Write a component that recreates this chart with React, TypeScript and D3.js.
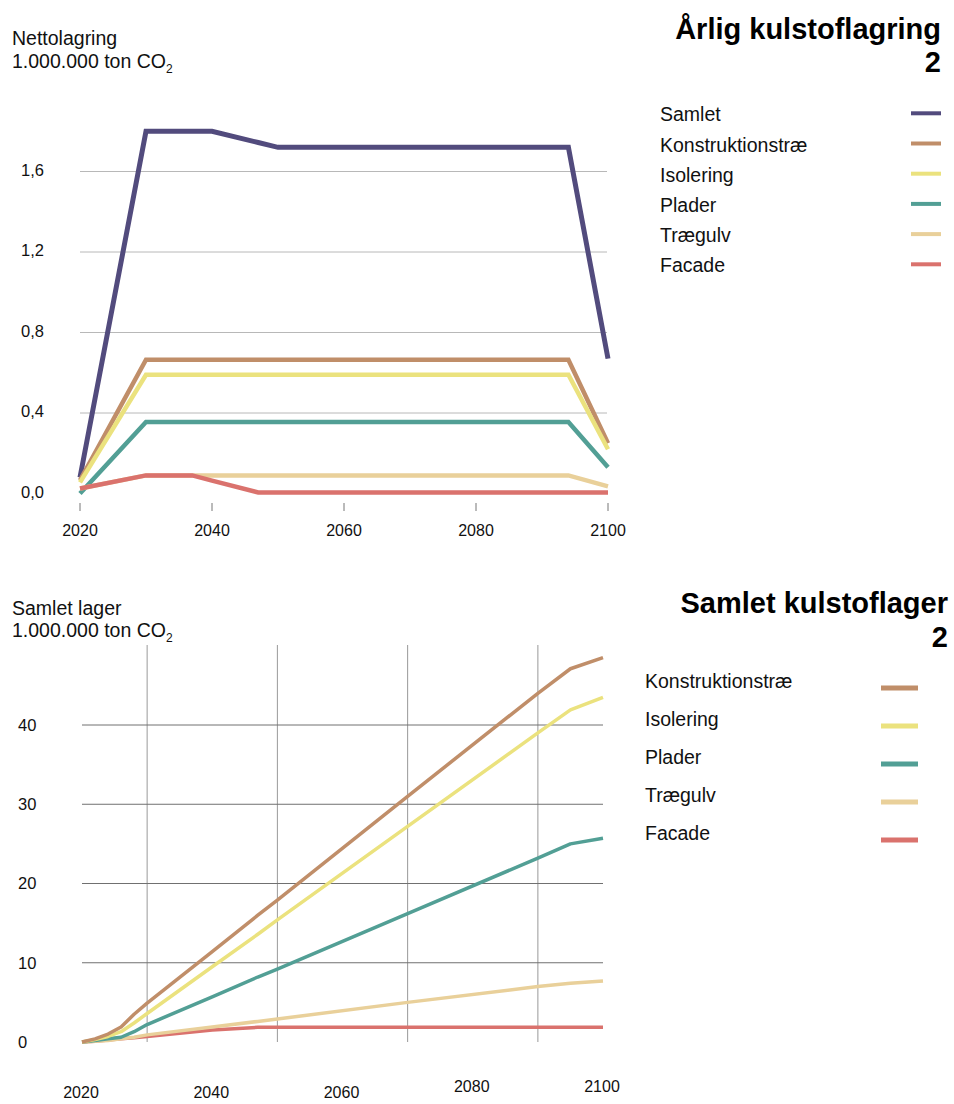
import React from "react";
import * as d3 from "d3";

// ---------- Top chart: annual net storage ----------
const topTitle = "Årlig kulstoflagring";
const topYears = [2020, 2030, 2037, 2040, 2047, 2050, 2094, 2100];
const topSamlet = [0.08, 1.8, 1.8, 1.8, 1.744, 1.72, 1.72, 0.67];
const topKonstruktion = [0.065, 0.665, 0.665, 0.665, 0.665, 0.665, 0.665, 0.25];
const topIsolering = [0.055, 0.59, 0.59, 0.59, 0.59, 0.59, 0.59, 0.22];
const topPlader = [0.0, 0.355, 0.355, 0.355, 0.355, 0.355, 0.355, 0.13];
const topTraegulv = [0.025, 0.09, 0.09, 0.09, 0.09, 0.09, 0.09, 0.035];
const topFacade = [0.025, 0.09, 0.09, 0.064, 0.005, 0.005, 0.005, 0.005];
const topYTicks = [0, 0.4, 0.8, 1.2, 1.6];
const topXTicks = [2020, 2040, 2060, 2080, 2100];

// ---------- Bottom chart: cumulative stock ----------
const botTitle = "Samlet kulstoflager";
const botYears = [2020, 2022, 2024, 2026, 2028, 2030, 2040, 2047, 2050, 2070, 2090, 2095, 2100];
const botKonstruktion = [0, 0.4, 1.0, 1.9, 3.5, 4.9, 11.4, 16.0, 17.9, 31.0, 44.0, 47.1, 48.5];
const botIsolering = [0, 0.3, 0.7, 1.3, 2.4, 3.6, 9.5, 13.6, 15.4, 27.2, 39.0, 41.9, 43.5];
const botPlader = [0, 0.2, 0.4, 0.6, 1.3, 2.2, 5.7, 8.2, 9.2, 16.2, 23.2, 25.0, 25.7];
const botTraegulv = [0, 0.1, 0.2, 0.4, 0.6, 0.9, 1.9, 2.6, 2.9, 5.0, 7.0, 7.4, 7.7];
const botFacade = [0, 0.1, 0.25, 0.4, 0.55, 0.7, 1.5, 1.85, 1.85, 1.85, 1.85, 1.85, 1.85];
const botYTicks = [0, 10, 20, 30, 40];
const botXGrid = [2030, 2050, 2070, 2090];
const botXTicks = [2020, 2040, 2060, 2080, 2100];

const names = ["Samlet", "Konstruktionstræ", "Isolering", "Plader", "Trægulv", "Facade"];
const colors = ["#524b7d", "#c08e69", "#ebe27e", "#529f95", "#e9d09a", "#da726d"];

const FONT = "'Liberation Sans', Arial, Helvetica, sans-serif";

function fmtComma(v: number) {
  return d3.format(".1f")(v).replace(".", ",");
}

export default function App() {
  const xTop = d3.scaleLinear().domain([2020, 2100]).range([80, 608]);
  const yTop = d3.scaleLinear().domain([0, 2]).range([493.5, 91]);
  const xBot = d3.scaleLinear().domain([2020, 2100]).range([82, 603]);
  const yBot = d3.scaleLinear().domain([0, 50]).range([1042, 645.75]);

  const topSeries = [topSamlet, topKonstruktion, topIsolering, topPlader, topTraegulv, topFacade];
  const botSeries = [botKonstruktion, botIsolering, botPlader, botTraegulv, botFacade];

  const lineTop = d3
    .line<number>()
    .x((_, i) => xTop(topYears[i]))
    .y((d) => yTop(d));
  const lineBot = d3
    .line<number>()
    .x((_, i) => xBot(botYears[i]))
    .y((d) => yBot(d));

  return (
    <svg
      width={954}
      height={1104}
      style={{ position: "absolute", left: 0, top: 0, display: "block", background: "#fff" }}
      fontFamily={FONT}
    >
      {/* ================= TOP CHART ================= */}
      <text x={12} y={45} fontSize={19.5} fill="#111">Nettolagring</text>
      <text x={12} y={68} fontSize={19.5} fill="#111">
        1.000.000 ton CO
        <tspan fontSize={12} dy={5}>2</tspan>
      </text>
      <text x={941} y={39} fontSize={29} fontWeight="bold" textAnchor="end" fill="#000">{topTitle}</text>
      <text x={941} y={72} fontSize={29} fontWeight="bold" textAnchor="end" fill="#000">2</text>

      {topYTicks.filter((t) => t > 0).map((t) => (
        <line key={"tg" + t} x1={80} x2={607} y1={yTop(t)} y2={yTop(t)} stroke="#b8b8b8" strokeWidth={1} />
      ))}
      {topYTicks.map((t) => (
        <text key={"tl" + t} x={44} y={yTop(t) - 1.5} dy="0.35em" fontSize={16.5} textAnchor="end" fill="#111">
          {fmtComma(t)}
        </text>
      ))}
      {topXTicks.map((t) => (
        <g key={"tx" + t}>
          <line x1={xTop(t)} x2={xTop(t)} y1={503} y2={511} stroke="#777" strokeWidth={1} />
          <text x={xTop(t)} y={536} fontSize={16} textAnchor="middle" fill="#111">{t}</text>
        </g>
      ))}

      {topSeries.map((s, i) => (
        <path
          key={"tp" + i}
          d={lineTop(s) || ""}
          fill="none"
          stroke={colors[i]}
          strokeWidth={i === 0 ? 5 : 4.5}
          strokeLinejoin="miter"
        />
      ))}

      {names.map((n, i) => (
        <g key={"tlg" + n}>
          <text x={660} y={114.5 + i * 30.2} dy="0.35em" fontSize={19.5} fill="#111">{n}</text>
          <line x1={911} x2={941} y1={113.3 + i * 30.2} y2={113.3 + i * 30.2} stroke={colors[i]} strokeWidth={4} />
        </g>
      ))}

      {/* ================= BOTTOM CHART ================= */}
      <text x={12} y={615} fontSize={19.5} fill="#111">Samlet lager</text>
      <text x={12} y={637} fontSize={19.5} fill="#111">
        1.000.000 ton CO
        <tspan fontSize={12} dy={5}>2</tspan>
      </text>
      <text x={948} y={613} fontSize={29} fontWeight="bold" textAnchor="end" fill="#000">{botTitle}</text>
      <text x={948} y={647} fontSize={29} fontWeight="bold" textAnchor="end" fill="#000">2</text>

      {botXGrid.map((t) => (
        <line key={"bv" + t} x1={xBot(t)} x2={xBot(t)} y1={645} y2={1042} stroke="#999" strokeWidth={1} />
      ))}
      {botYTicks.filter((t) => t > 0).map((t) => (
        <line key={"bh" + t} x1={82} x2={603} y1={yBot(t)} y2={yBot(t)} stroke="#707070" strokeWidth={1} />
      ))}
      {botYTicks.map((t) => (
        <text key={"bl" + t} x={18} y={yBot(t)} dy="0.35em" fontSize={16.5} fill="#111">{t}</text>
      ))}
      {botXTicks.map((t) => (
        <text key={"bx" + t} x={xBot(t) - 1} y={t >= 2080 ? 1092 : 1098} fontSize={16} textAnchor="middle" fill="#111">
          {t}
        </text>
      ))}

      {botSeries
        .map((s, i) => ({ s, i }))
        .reverse()
        .map(({ s, i }) => (
          <path
            key={"bp" + i}
            d={lineBot(s) || ""}
            fill="none"
            stroke={colors[i + 1]}
            strokeWidth={3.5}
            strokeLinejoin="round"
          />
        ))}

      {names.slice(1).map((n, i) => (
        <g key={"blg" + n}>
          <text x={645} y={688 + i * 38} fontSize={19.5} fill="#111">{n}</text>
          <line x1={881} x2={918} y1={688 + i * 38} y2={688 + i * 38} stroke={colors[i + 1]} strokeWidth={5} />
        </g>
      ))}
    </svg>
  );
}
